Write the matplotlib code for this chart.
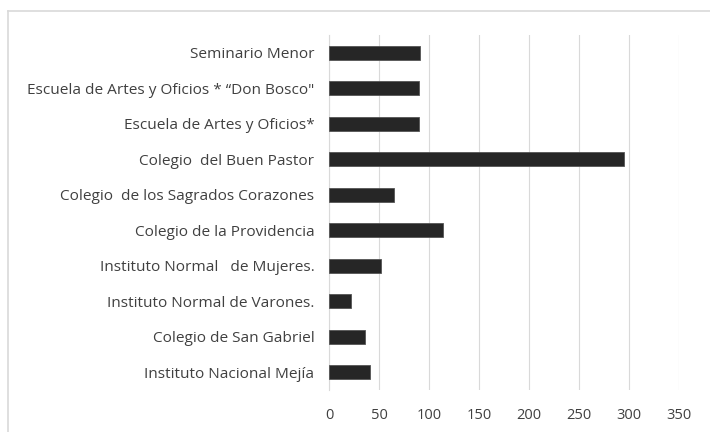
import matplotlib.pyplot as plt
from matplotlib.lines import Line2D

plt.rcParams['font.family'] = ['Open Sans', 'DejaVu Sans']

schools = [
    'Instituto Nacional Mejía',
    'Colegio de San Gabriel',
    'Instituto Normal de Varones.',
    'Instituto Normal   de Mujeres.',
    'Colegio de la Providencia',
    'Colegio  de los Sagrados Corazones',
    'Colegio  del Buen Pastor',
    'Escuela de Artes y Oficios*',
    'Escuela de Artes y Oficios * \u201cDon Bosco"',
    'Seminario Menor',
]
values = [41, 36, 22, 52, 114, 65, 295, 90, 90, 91]
xticks = [0, 50, 100, 150, 200, 250, 300, 350]

fig = plt.figure(figsize=(7.1, 4.32), dpi=100)
ax = fig.add_axes([329 / 710, 1 - 390 / 432, 350 / 710, 355 / 432])

ax.barh(range(len(schools)), values, height=0.4, color='#262626',
        edgecolor='#555555', linewidth=0.6, zorder=3)

ax.set_xlim(0, 350)
ax.set_ylim(-0.5, len(schools) - 0.5)
ax.set_xticks(xticks)
ax.set_yticks(range(len(schools)))
ax.set_yticklabels(schools)
ax.tick_params(axis='both', length=0, colors='#404040')
ax.tick_params(axis='y', pad=10.5, labelsize=11.1)
ax.tick_params(axis='x', pad=13, labelsize=10.5)
ax.grid(axis='x', color='#d9d9d9', linewidth=0.8, zorder=0)
for side in ['top', 'right', 'bottom']:
    ax.spines[side].set_visible(False)
ax.spines['left'].set_color('#d9d9d9')

# chart border (only top and left edges fall inside the image)
x0, y0 = 7.5 / 710, 1 - 10.5 / 432
fig.add_artist(Line2D([x0, x0], [0, y0], transform=fig.transFigure,
                      color='#d9d9d9', linewidth=1.2))
fig.add_artist(Line2D([x0, 1], [y0, y0], transform=fig.transFigure,
                      color='#d9d9d9', linewidth=1.2))

plt.savefig('out.png', dpi=100)
